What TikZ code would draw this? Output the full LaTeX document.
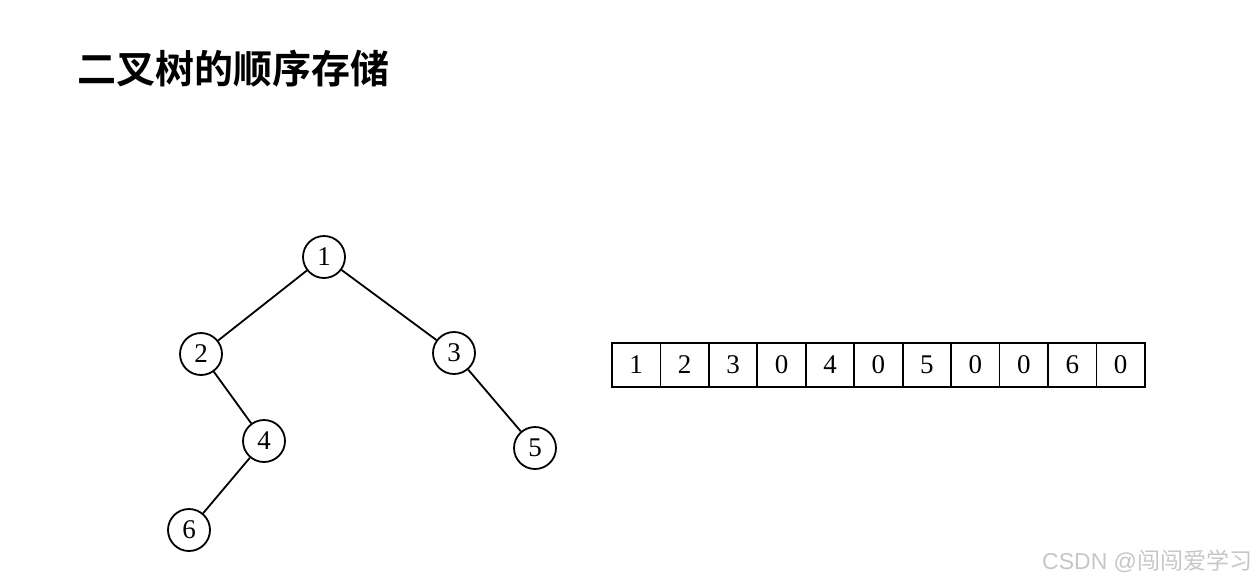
\documentclass[tikz,border=0pt]{standalone}
\usepackage{fontspec}
\setmainfont{Liberation Serif}
\newfontfamily\cjk{Noto Sans CJK SC}[BoldFont={Noto Sans CJK SC Bold}]
\newfontfamily\wmfont{Liberation Sans}
\usetikzlibrary{positioning}

\begin{document}
\begin{tikzpicture}[
    x=1pt, y=1pt,
    line width=1.8pt,
    node distance=48.45pt,
    every node/.style={font=\fontsize{27}{27}\selectfont},
    vertex/.style={circle, draw, minimum size=42pt, inner sep=0pt},
    cell/.style={draw, minimum width=48.45pt, minimum height=44pt,
      inner sep=0pt, outer sep=0pt},
  ]
  \useasboundingbox (0,0) rectangle (1260,-582);

  \node[anchor=west, inner sep=0pt,
    font=\cjk\bfseries\fontsize{39}{42}\selectfont] (title) at (77,-68.5)
    {二叉树的顺序存储};

  % tree
  \node[vertex] (n1) at (324,-257) {1};
  \node[vertex, on grid, below left=97pt and 123pt of n1]  (n2) {2};
  \node[vertex, on grid, below right=96pt and 130pt of n1] (n3) {3};
  \node[vertex, on grid, below right=87pt and 63pt of n2]  (n4) {4};
  \node[vertex, on grid, below right=95pt and 81pt of n3]  (n5) {5};
  \node[vertex, on grid, below left=89pt and 75pt of n4]   (n6) {6};

  \path[draw]
  (n1) edge (n2)
  (n1) edge (n3)
  (n2) edge (n4)
  (n3) edge (n5)
  (n4) edge (n6);

  % array
  \node[cell] (c1) at (636.2,-365) {1};
  \foreach \v [count=\i from 2, remember=\i as \j (initially 1)]
    in {2,3,0,4,0,5,0,0,6,0}
    \node[cell, on grid, right=of c\j] (c\i) {\v};

  \node[anchor=east, inner sep=0pt, text=gray!45,
    font=\fontsize{23}{23}\selectfont] (wm) at (1253,-561)
    {\wmfont CSDN @\cjk 闯闯爱学习};

\end{tikzpicture}
\end{document}
